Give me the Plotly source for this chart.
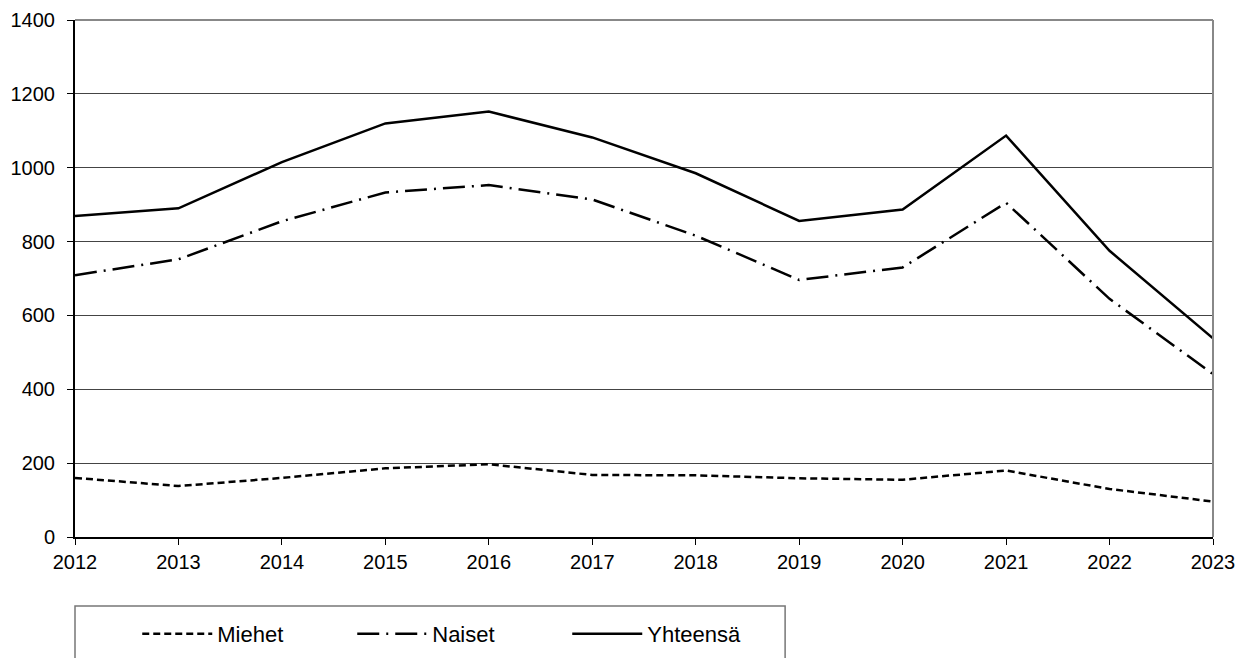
import plotly.graph_objects as go

years = [2012, 2013, 2014, 2015, 2016, 2017, 2018, 2019, 2020, 2021, 2022, 2023]
miehet = [160, 138, 160, 186, 197, 168, 167, 159, 155, 180, 130, 96]
naiset = [709, 752, 855, 933, 953, 914, 816, 696, 730, 905, 645, 441]
yhteensa = [869, 890, 1015, 1120, 1152, 1082, 985, 856, 887, 1087, 775, 538]
y_ticks = [0, 200, 400, 600, 800, 1000, 1200, 1400]

fig = go.Figure()
fig.add_trace(go.Scatter(x=years, y=miehet, name="Miehet", mode="lines",
                         line=dict(color="black", width=2.5, dash="7px,4px")))
fig.add_trace(go.Scatter(x=years, y=naiset, name="Naiset", mode="lines",
                         line=dict(color="black", width=2.5, dash="22px,7px,2px,7px")))
fig.add_trace(go.Scatter(x=years, y=yhteensa, name="Yhteensä", mode="lines",
                         line=dict(color="black", width=2.5)))

fig.update_layout(
    width=1256, height=658,
    margin=dict(l=67, r=51, t=12, b=129, autoexpand=False),
    paper_bgcolor="white", plot_bgcolor="white",
    font=dict(family="Liberation Sans, Arial, sans-serif", size=20, color="black"),
    showlegend=True,
    legend=dict(orientation="h", x=0.0547, y=-0.147, xanchor="left", yanchor="top",
                bgcolor="rgba(0,0,0,0)", borderwidth=0, entrywidth=130,
                itemwidth=70, font=dict(size=22)),
    xaxis=dict(range=[2012, 2023], tickmode="array", tickvals=years,
               ticktext=[str(y) for y in years], showgrid=False,
               showline=True, linecolor="black", linewidth=2,
               ticks="outside", ticklen=6, tickcolor="black", zeroline=False),
    yaxis=dict(range=[0, 1400], tickmode="array", tickvals=y_ticks,
               ticktext=[str(v) for v in y_ticks], showgrid=True,
               gridcolor="#444444", gridwidth=1,
               showline=True, linecolor="black", linewidth=2,
               ticks="outside", ticklen=6, tickcolor="black", zeroline=False,
               ticklabelstandoff=8),
    shapes=[
        dict(type="line", xref="paper", yref="paper", x0=1, x1=1, y0=0, y1=1,
             line=dict(color="#888888", width=2)),
        dict(type="line", xref="paper", yref="paper", x0=0, x1=1, y0=1, y1=1,
             line=dict(color="#888888", width=2)),
        dict(type="rect", xref="paper", yref="paper", x0=0, x1=0.624,
             y0=-0.1335, y1=-0.3, line=dict(color="#777777", width=1.5)),
    ],
)

fig.write_html("out.html")
